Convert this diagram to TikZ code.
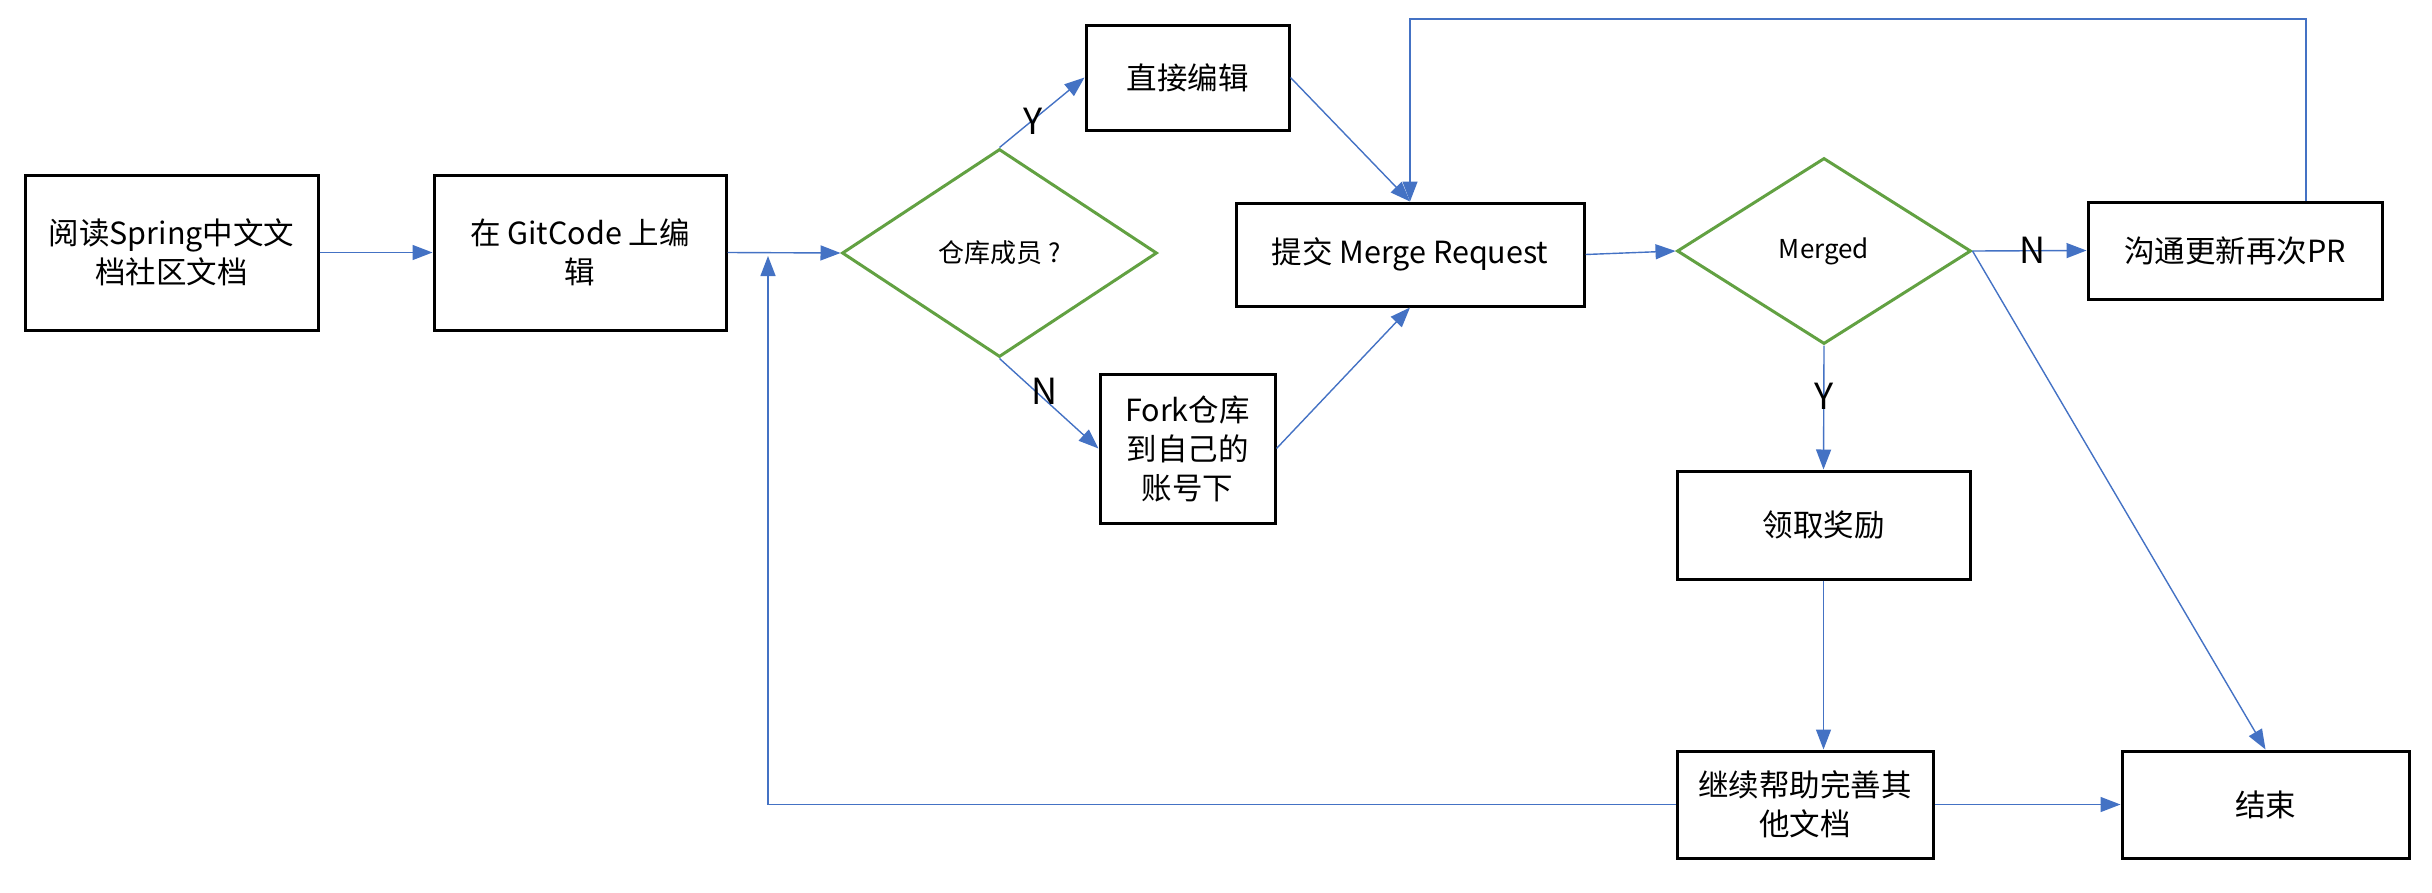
\documentclass[tikz,border=0pt]{standalone}
\usepackage{fontspec}
\setmainfont{Noto Sans CJK SC}
\usetikzlibrary{arrows.meta,shapes.geometric,calc}
\definecolor{conn}{RGB}{68,114,196}
\definecolor{dgreen}{RGB}{98,161,66}
\begin{document}
\begin{tikzpicture}[x=1pt,y=-1pt,
  box/.style={draw=black,line width=3pt,rectangle,inner sep=0pt,align=center,font=\fontsize{30.5}{39}\selectfont},
  dec/.style={draw=dgreen,line width=3pt,diamond,inner sep=0pt,align=center,font=\fontsize{26}{32}\selectfont},
  link/.style={draw=conn,line width=1.4pt,-{Triangle[length=20pt,width=15pt]}},
  lab/.style={font=\fontsize{36}{40}\selectfont,inner sep=0pt}]
\useasboundingbox (0,0) rectangle (2432,892);
\node[box,minimum width=293pt,minimum height=155pt] (A) at (171.5,252.5) {阅读Spring中文文\\档社区文档};
\node[box,minimum width=292pt,minimum height=155pt] (B) at (580,252.5) {在 GitCode 上编\\辑};
\node[dec,minimum width=315pt,minimum height=208pt] (D1) at (999.5,253) {仓库成员 ?};
\node[box,minimum width=203pt,minimum height=105pt] (E) at (1187.5,77.5) {直接编辑};
\node[box,minimum width=175pt,minimum height=149pt] (F) at (1187.5,448.5) {Fork仓库\\到自己的\\账号下};
\node[box,minimum width=348pt,minimum height=103pt] (MR) at (1410,254.5) {提交 Merge Request};
\node[dec,minimum width=294pt,minimum height=186pt] (D2) at (1824,251) {Merged};
\node[box,minimum width=294pt,minimum height=97pt] (P) at (2235,250.5) {沟通更新再次PR};
\node[box,minimum width=293pt,minimum height=108pt] (R) at (1823.5,525) {领取奖励};
\node[box,minimum width=256pt,minimum height=107pt] (C) at (1805,804.5) {继续帮助完善其\\他文档};
\node[box,minimum width=287pt,minimum height=107pt] (End) at (2265.5,804.5) {结束};
\coordinate (Top) at (1000,19);
\coordinate (J) at (768,256);
\draw[link] (A.east) -- (B.west);
\draw[link] (B.east) -- (D1.west);
\draw[link] (D1.north) -- (E.west);
\draw[link] (D1.south) -- (F.west);
\draw[link] (E.east) -- (MR.north);
\draw[link] (F.east) -- (MR.south);
\draw[link] (MR.east) -- (D2.west);
\draw[link] (D2.east) -- (P.west);
\draw[link] ([xshift=71pt]P.north) |- (Top -| MR.north) -- (MR.north);
\draw[link] (D2.south) -- (R.north);
\draw[link] (D2.east) -- (End.north);
\draw[link] (R.south) -- (R.south |- C.north);
\draw[link] (C.east) -- (End.west);
\draw[link] (C.west) -| (J);
\node[lab] (LY1) at (1033,121) {Y};
\node[lab] (LN1) at (1044,391) {N};
\node[lab] (LN2) at (2032,250) {N};
\node[lab] (LY2) at (1824,396) {Y};
\end{tikzpicture}
\end{document}
